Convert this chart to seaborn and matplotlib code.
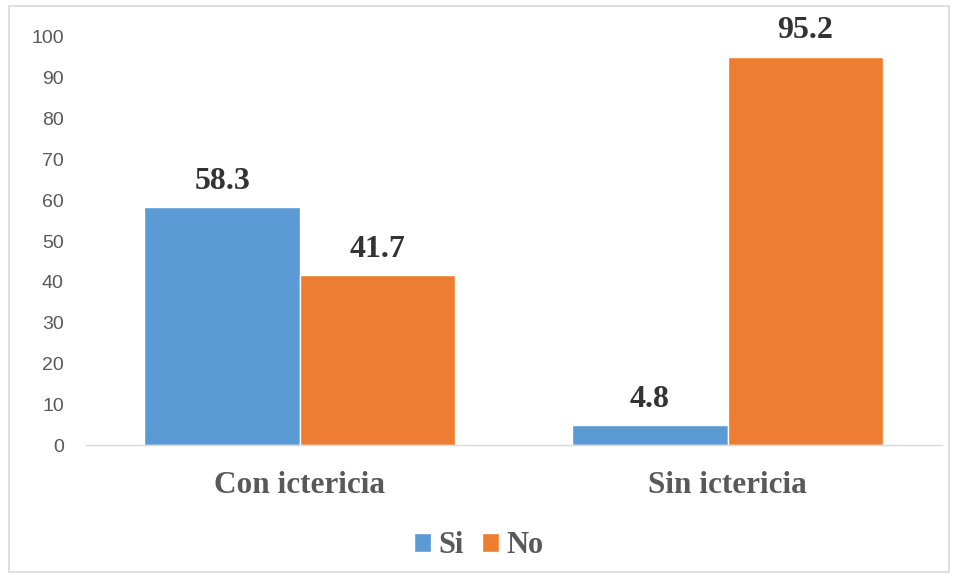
import matplotlib
matplotlib.use("Agg")
import matplotlib.pyplot as plt
import seaborn as sns
import pandas as pd
from matplotlib.patches import Rectangle

# --- Data ---
categories = ["Con ictericia", "Sin ictericia"]
series_names = ["Si", "No"]
si_values = [58.3, 4.8]
no_values = [41.7, 95.2]
y_ticks = [0, 10, 20, 30, 40, 50, 60, 70, 80, 90, 100]

colors = ["#5B9BD5", "#ED7D31"]

df = pd.DataFrame({
    "categoria": categories * 2,
    "grupo": ["Si"] * len(categories) + ["No"] * len(categories),
    "valor": si_values + no_values,
})

sns.set_style("white")
serif = ["Liberation Serif", "DejaVu Serif"]
sans = ["Liberation Sans", "DejaVu Sans"]

fig = plt.figure(figsize=(9.58, 5.78), dpi=100)
ax = fig.add_axes([0.0898, 0.230, 0.893, 0.706])

sns.barplot(data=df, x="categoria", y="valor", hue="grupo", hue_order=series_names,
            palette=colors, width=0.727, saturation=1, ax=ax, legend=True)

# value labels
for cont in ax.containers:
    ax.bar_label(cont, fmt="%.1f", padding=8, fontsize=23, fontweight="bold",
                 family=serif, color="#333333")

ax.set_xlim(-0.5, 1.5)
ax.set_ylim(0, 100)
ax.set_yticks(y_ticks)
ax.set_xlabel("")
ax.set_ylabel("")

for lbl in ax.get_yticklabels():
    lbl.set_family(sans)
    lbl.set_fontsize(14)
    lbl.set_color("#595959")
for lbl in ax.get_xticklabels():
    lbl.set_family(serif)
    lbl.set_fontsize(22.5)
    lbl.set_fontweight("bold")
    lbl.set_color("#595959")
ax.tick_params(axis="y", length=0, pad=16)
ax.tick_params(axis="x", length=0, pad=19)

for side in ["left", "right", "top"]:
    ax.spines[side].set_visible(False)
ax.spines["bottom"].set_color("#D9D9D9")
ax.spines["bottom"].set_linewidth(1)

# legend at bottom
handles, labels = ax.get_legend_handles_labels()
ax.legend_.remove()
fig.legend(handles, labels, loc="center", bbox_to_anchor=(0.5, 0.056), ncol=2,
           frameon=False, handlelength=0.55, handleheight=0.55, handletextpad=0.25,
           columnspacing=0.6, prop={"family": serif, "size": 22, "weight": "bold"},
           labelcolor="#595959")

# chart border
fig.patches.append(Rectangle((0.009, 0.01), 0.982, 0.979, transform=fig.transFigure,
                             fill=False, edgecolor="#D9D9D9", linewidth=1.2))

fig.savefig("out.png", dpi=100)
